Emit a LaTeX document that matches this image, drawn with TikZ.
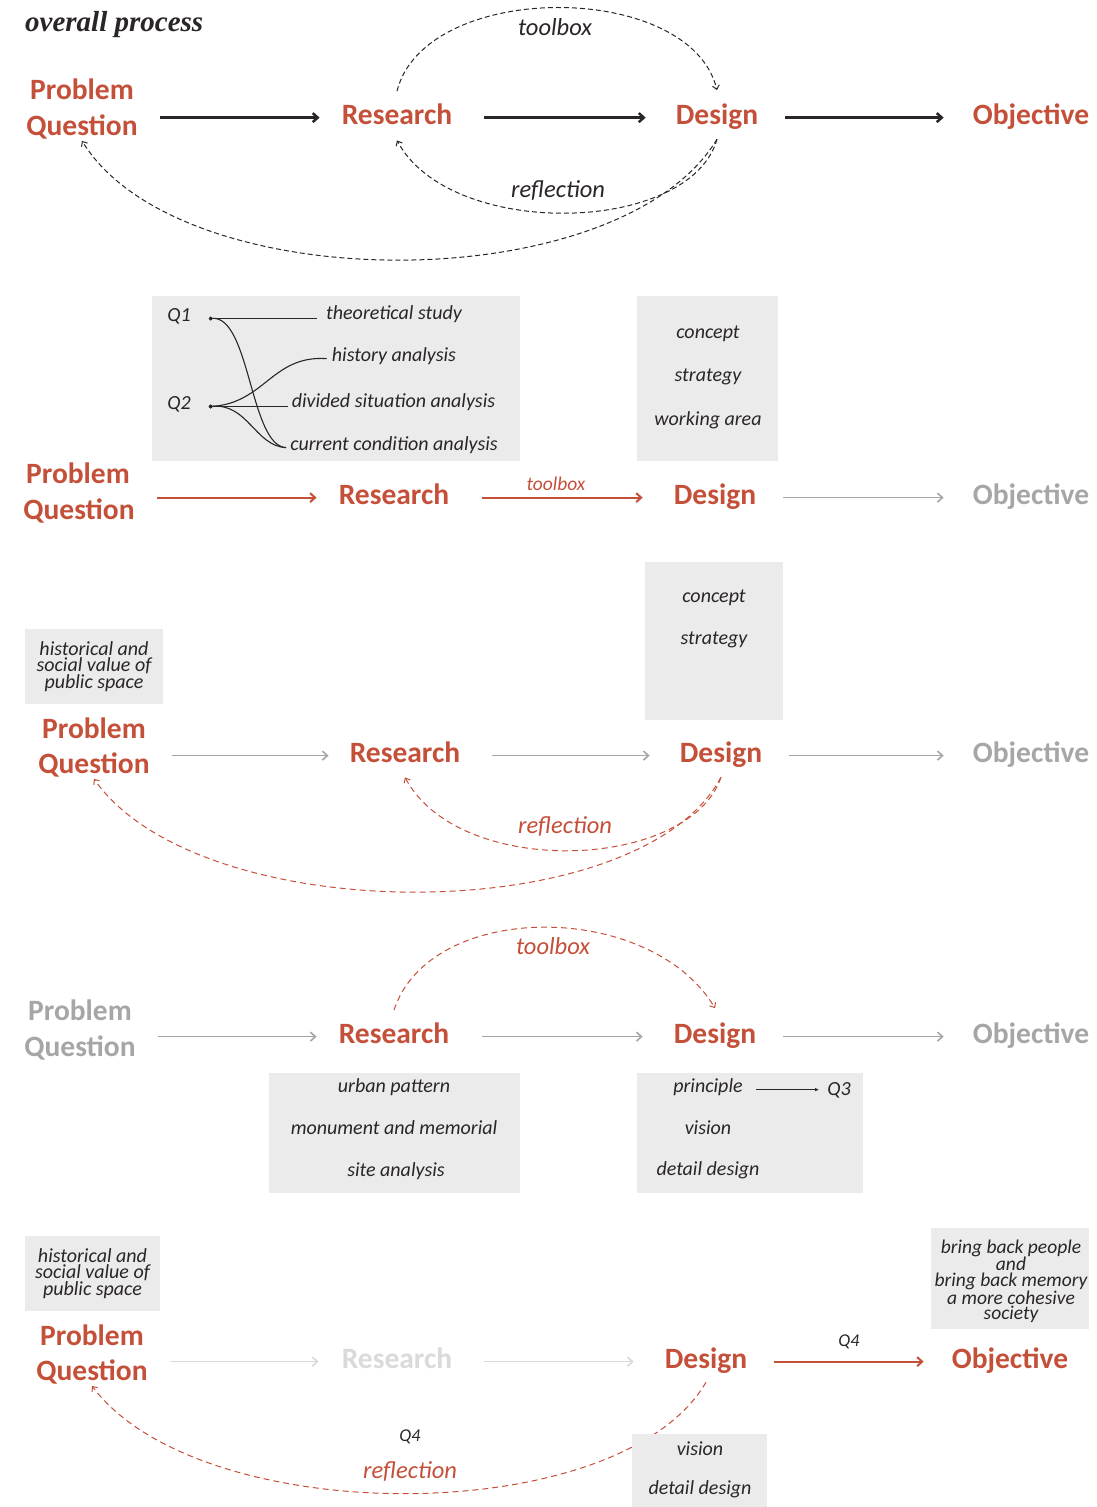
\documentclass[tikz,border=0pt]{standalone}
\usepackage{fontspec}
\setmainfont{Carlito}
\newfontfamily\headfont{Liberation Serif}
\usetikzlibrary{arrows.meta}
\definecolor{accent}{HTML}{C5503A}
\definecolor{ink}{HTML}{2A2526}
\definecolor{muted}{HTML}{A6A6A6}
\definecolor{faint}{HTML}{DADADA}
\definecolor{panelgrey}{HTML}{EBEBEB}
\begin{document}
\begin{tikzpicture}[x=1pt,y=-1pt,
  stage/.style={font=\fontsize{29.5}{32}\selectfont\bfseries, inner sep=0pt, anchor=base},
  item/.style={font=\fontsize{20}{22}\selectfont\itshape, text=ink, inner sep=0pt, anchor=base},
  stack/.style={font=\fontsize{20}{15.5}\selectfont\itshape, text=ink, align=center, inner sep=0pt},
  note/.style={font=\fontsize{24.5}{26}\selectfont\itshape, inner sep=0pt, anchor=base},
  panel/.style={fill=panelgrey, draw=none, inner sep=0pt},
  flow/.style={-{Straight Barb[length=5pt,width=9pt]}, line width=2pt},
  loop/.style={dash pattern=on 5pt off 3pt, line width=1pt, -{Straight Barb[length=4pt,width=7pt]}},
  wire/.style={line width=1.1pt, draw=ink, {Circle[length=3.5pt]}-}
]
\fill[white] (0,0) rectangle (1097,1507);
\useasboundingbox (0,0) rectangle (1097,1507);

% ---------- overall process ----------
\node[anchor=base west, inner sep=0pt, text=ink,
      font=\headfont\bfseries\itshape\fontsize{29}{32}\selectfont] (title) at (25,31) {overall process};

\node[stage,text=accent] (p1a) at (82,99) {Problem};
\node[stage,text=accent] (p1b) at (82,135) {Question};
\node[stage,text=accent] (r1) at (397,124) {Research};
\node[stage,text=accent] (d1) at (717,124) {Design};
\node[stage,text=accent] (o1) at (1031,124) {Objective};

\draw[flow,ink,line width=2.5pt] ([xshift=22pt,yshift=4pt]p1b.east |- r1.mid) -- ([xshift=-22pt,yshift=4pt]r1.mid west);
\draw[flow,ink,line width=2.5pt] ([xshift=32pt,yshift=4pt]r1.mid east) -- ([xshift=-30pt,yshift=4pt]d1.mid west);
\draw[flow,ink,line width=2.5pt] ([xshift=27pt,yshift=4pt]d1.mid east) -- ([xshift=-29pt,yshift=4pt]o1.mid west);

\draw[loop,ink] ([yshift=12pt]r1.north) .. controls (425,-20) and (690,-20) .. ([yshift=13pt]d1.north);
\node[note,text=ink] (tb1) at (555,35) {toolbox};
\draw[loop,ink] ([yshift=-10pt]d1.south) .. controls (690,235) and (450,240) .. ([yshift=-16pt]r1.south);
\draw[loop,ink] ([yshift=-10pt]d1.south) .. controls (620,300) and (180,300) .. ([yshift=-2pt]p1b.south);
\node[note,text=ink] (rf1) at (558,197) {reflection};

% ---------- research question mapping ----------
\node[panel, minimum width=368pt, minimum height=165pt] (boxA) at (336,378.5) {};
\node[panel, minimum width=141pt, minimum height=165pt] (boxB) at (707.5,378.5) {};

\node[item] (q1) at (179,321) {Q1};
\node[item] (q2) at (179,409) {Q2};
\node[item] (t1) at (394,319) {theoretical study};
\node[item] (t2) at (394,361) {history analysis};
\node[item] (t3) at (393.5,407) {divided situation analysis};
\node[item] (t4) at (394,450) {current condition analysis};

\draw[wire] ([xshift=18pt]q1.mid east) -- ([xshift=-9pt]t1.west |- q1.mid);
\draw[wire] ([xshift=18pt]q1.mid east) .. controls (250,315) and (250,446) .. ([xshift=-4pt]t4.mid west);
\draw[wire] ([xshift=18pt]q2.mid east) .. controls (265,403) and (272,355) .. ([xshift=-5pt]t2.mid west);
\draw[wire] ([xshift=18pt]q2.mid east) -- ([xshift=-4pt]t3.west |- q2.mid);
\draw[wire] ([xshift=18pt]q2.mid east) .. controls (248,403) and (255,446) .. ([xshift=-4pt]t4.mid west);

\node[item] (c2a) at (708,338) {concept};
\node[item] (c2b) at (708,381) {strategy};
\node[item] (c2c) at (708,425) {working area};

\node[stage,text=accent] (p2a) at (78,483) {Problem};
\node[stage,text=accent] (p2b) at (79,519) {Question};
\node[stage,text=accent] (r2) at (394,504) {Research};
\node[stage,text=accent] (d2) at (715,504) {Design};
\node[stage,text=muted] (o2) at (1031,504) {Objective};

\draw[flow,accent] ([xshift=22pt,yshift=4pt]p2b.east |- r2.mid) -- ([xshift=-22pt,yshift=4pt]r2.mid west);
\draw[flow,accent] ([xshift=33pt,yshift=4pt]r2.mid east) -- ([xshift=-31pt,yshift=4pt]d2.mid west);
\node[anchor=base, inner sep=0pt, font=\fontsize{19.5}{21}\selectfont\itshape, text=accent] (tb2) at (556,490) {toolbox};
\draw[flow,muted,line width=1.6pt] ([xshift=27pt,yshift=4pt]d2.mid east) -- ([xshift=-29pt,yshift=4pt]o2.mid west);

% ---------- reflection on the problem ----------
\node[panel, minimum width=138pt, minimum height=75pt] (boxC) at (94,666.5) {};
\node[stack] (hv3) at (94,667) {historical and\\social value of\\public space};
\node[panel, minimum width=138pt, minimum height=158pt] (boxD) at (714,641) {};
\node[item] (c3a) at (714,602) {concept};
\node[item] (c3b) at (714,644) {strategy};

\node[stage,text=accent] (p3a) at (94,738) {Problem};
\node[stage,text=accent] (p3b) at (94,773) {Question};
\node[stage,text=accent] (r3) at (405,762) {Research};
\node[stage,text=accent] (d3) at (721,762) {Design};
\node[stage,text=muted] (o3) at (1031,762) {Objective};

\draw[flow,muted,line width=1.6pt] ([xshift=22pt,yshift=4pt]p3b.east |- r3.mid) -- ([xshift=-21pt,yshift=4pt]r3.mid west);
\draw[flow,muted,line width=1.6pt] ([xshift=32pt,yshift=4pt]r3.mid east) -- ([xshift=-30pt,yshift=4pt]d3.mid west);
\draw[flow,muted,line width=1.6pt] ([xshift=27pt,yshift=4pt]d3.mid east) -- ([xshift=-29pt,yshift=4pt]o3.mid west);

\draw[loop,accent,dash pattern=on 6pt off 4pt] ([yshift=-10pt]d3.south) .. controls (690,870) and (460,880) .. ([yshift=-15pt]r3.south);
\draw[loop,accent,dash pattern=on 6pt off 4pt] ([yshift=-10pt]d3.south) .. controls (640,930) and (200,930) .. ([yshift=-2pt]p3b.south);
\node[note,text=accent] (rf3) at (565,833) {reflection};

% ---------- toolbox into design ----------
\node[stage,text=muted] (p4a) at (80,1020) {Problem};
\node[stage,text=muted] (p4b) at (80,1056) {Question};
\node[stage,text=accent] (r4) at (394,1043) {Research};
\node[stage,text=accent] (d4) at (715,1043) {Design};
\node[stage,text=muted] (o4) at (1031,1043) {Objective};

\draw[flow,muted,line width=1.6pt] ([xshift=22pt,yshift=4pt]p4b.east |- r4.mid) -- ([xshift=-22pt,yshift=4pt]r4.mid west);
\draw[flow,muted,line width=1.6pt] ([xshift=33pt,yshift=4pt]r4.mid east) -- ([xshift=-31pt,yshift=4pt]d4.mid west);
\draw[flow,muted,line width=1.6pt] ([xshift=27pt,yshift=4pt]d4.mid east) -- ([xshift=-29pt,yshift=4pt]o4.mid west);

\draw[loop,accent,dash pattern=on 6pt off 4pt] ([yshift=12pt]r4.north) .. controls (430,900) and (650,900) .. ([yshift=14pt]d4.north);
\node[note,text=accent] (tb4) at (553,954) {toolbox};

\node[panel, minimum width=251pt, minimum height=120pt] (boxE) at (394.5,1133) {};
\node[item] (u4a) at (394,1092) {urban pattern};
\node[item] (u4b) at (394,1134) {monument and memorial};
\node[item] (u4c) at (396,1176) {site analysis};

\node[panel, minimum width=226pt, minimum height=120pt] (boxF) at (750,1133) {};
\node[item] (pr4) at (708,1092) {principle};
\node[item] (q3) at (839,1095) {Q3};
\node[item] (v4) at (708,1134) {vision};
\node[item] (dd4) at (708,1175) {detail design};
\draw[ink,line width=1.1pt,-{Latex[length=4pt,width=3.5pt]}] ([xshift=13pt]pr4.mid east) -- ([xshift=-8pt]q3.west |- pr4.mid);

% ---------- design towards the objective ----------
\node[panel, minimum width=135pt, minimum height=75pt] (boxG) at (92.5,1273.5) {};
\node[stack] (hv5) at (92.5,1274) {historical and\\social value of\\public space};

\node[panel, minimum width=158pt, minimum height=101pt] (boxH) at (1010,1278.5) {};
\node[stack, font=\fontsize{19.5}{15.3}\selectfont\itshape] (bb5) at (1011,1281) {bring back people\\and\\bring back memory\\a more cohesive\\society};

\node[stage,text=accent] (p5a) at (92,1345) {Problem};
\node[stage,text=accent] (p5b) at (92,1380) {Question};
\node[stage,text=faint] (r5) at (397,1368) {Research};
\node[stage,text=accent] (d5) at (706,1368) {Design};
\node[stage,text=accent] (o5) at (1010,1368) {Objective};

\draw[flow,faint,line width=1.6pt] ([xshift=22pt,yshift=4pt]p5b.east |- r5.mid) -- ([xshift=-23pt,yshift=4pt]r5.mid west);
\draw[flow,faint,line width=1.6pt] ([xshift=32pt,yshift=4pt]r5.mid east) -- ([xshift=-31pt,yshift=4pt]d5.mid west);
\draw[flow,accent] ([xshift=27pt,yshift=4pt]d5.mid east) -- ([xshift=-28pt,yshift=4pt]o5.mid west);
\node[item, font=\fontsize{18}{20}\selectfont\itshape] (q4a) at (849,1346) {Q4};

\draw[loop,accent,dash pattern=on 6pt off 4pt] ([yshift=-9pt]d5.south) .. controls (620,1530) and (200,1530) .. ([yshift=-2pt]p5b.south);
\node[item, font=\fontsize{18}{20}\selectfont\itshape] (q4b) at (410,1441) {Q4};
\node[note,text=accent] (rf5) at (410,1478) {reflection};

\node[panel, minimum width=135pt, minimum height=73pt] (boxI) at (699.5,1470.5) {};
\node[item] (v5) at (700,1455) {vision};
\node[item] (dd5) at (700,1494) {detail design};
\end{tikzpicture}
\end{document}
